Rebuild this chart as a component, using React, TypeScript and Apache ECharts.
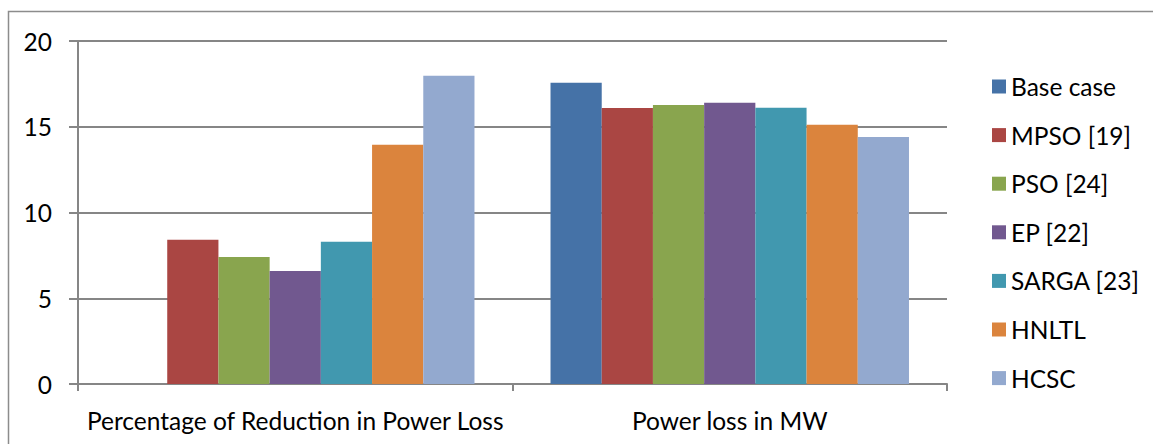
import React, { useEffect, useRef } from "react";
import * as echarts from "echarts";

const categories = ["Percentage of Reduction in Power Loss", "Power loss in MW"];
const seriesNames = ["Base case", "MPSO [19]", "PSO [24]", "EP [22]", "SARGA [23]", "HNLTL", "HCSC"];
const baseCase = [null, 17.57];
const mpso = [8.41, 16.09];
const pso = [7.4, 16.27];
const ep = [6.59, 16.4];
const sarga = [8.3, 16.11];
const hnltl = [13.95, 15.12];
const hcsc = [17.98, 14.4];
const yTicks = [0, 5, 10, 15, 20];
const colors = ["#4572A7", "#AA4643", "#89A54E", "#71588F", "#4198AF", "#DB843D", "#93A9CF"];

const FONT = "Lato";

function fitFontSize(text: string, targetWidth: number): number {
  const c = document.createElement("canvas");
  const ctx = c.getContext("2d");
  if (!ctx) return 22;
  ctx.font = `100px ${FONT}`;
  const w = ctx.measureText(text).width;
  return Math.round((targetWidth / w) * 100 * 10) / 10;
}

export default function App() {
  const ref = useRef<HTMLDivElement>(null);
  useEffect(() => {
    if (!ref.current) return;
    const chart = echarts.init(ref.current, undefined, { renderer: "svg" });
    const allData = [baseCase, mpso, pso, ep, sarga, hnltl, hcsc];
    const fs = fitFontSize(categories[0], 417);
    chart.setOption({
      animation: false,
      backgroundColor: "#ffffff",
      textStyle: { fontFamily: FONT },
      graphic: [
        {
          type: "rect",
          shape: { x: 8.5, y: 11.5, width: 1200, height: 500 },
          style: { fill: "none", stroke: "#8c8c8c", lineWidth: 1.5 },
          silent: true,
        },
      ],
      grid: { left: 78, right: 206, top: 41, bottom: 60, containLabel: false },
      legend: {
        orient: "vertical",
        left: 987,
        top: 69,
        itemWidth: 14,
        itemHeight: 14,
        itemGap: 23.6,
        icon: "rect",
        textStyle: { fontFamily: FONT, fontSize: fs, color: "#000", lineHeight: 24 },
        data: seriesNames,
      },
      xAxis: {
        type: "category",
        data: categories,
        axisLine: { show: true, lineStyle: { color: "#868686", width: 2 } },
        axisTick: { show: true, length: 7, interval: 0, lineStyle: { color: "#868686", width: 2 } },
        axisLabel: { color: "#000", fontSize: fs, fontFamily: FONT, margin: 24, interval: 0, hideOverlap: false },
      },
      yAxis: {
        type: "value",
        min: 0,
        max: 20,
        interval: 5,
        axisLine: { show: true, lineStyle: { color: "#868686", width: 2 } },
        axisTick: { show: true, length: 9, lineStyle: { color: "#868686", width: 2 } },
        splitLine: { show: true, lineStyle: { color: "#868686", width: 2 } },
        axisLabel: {
          color: "#000",
          fontSize: fs,
          fontFamily: FONT,
          margin: 26,
          formatter: (v: number) => (yTicks.includes(v) ? String(v) : ""),
        },
      },
      series: seriesNames.map((name, i) => ({
        name,
        type: "bar",
        data: allData[i].map((v) => (v === null ? "-" : v)),
        barGap: "0%",
        barCategoryGap: "17.5%",
        itemStyle: { color: colors[i] },
      })),
    });
    return () => chart.dispose();
  }, []);
  return (
    <div
      ref={ref}
      style={{ position: "fixed", left: 0, top: 0, width: 1153, height: 444 }}
    />
  );
}
